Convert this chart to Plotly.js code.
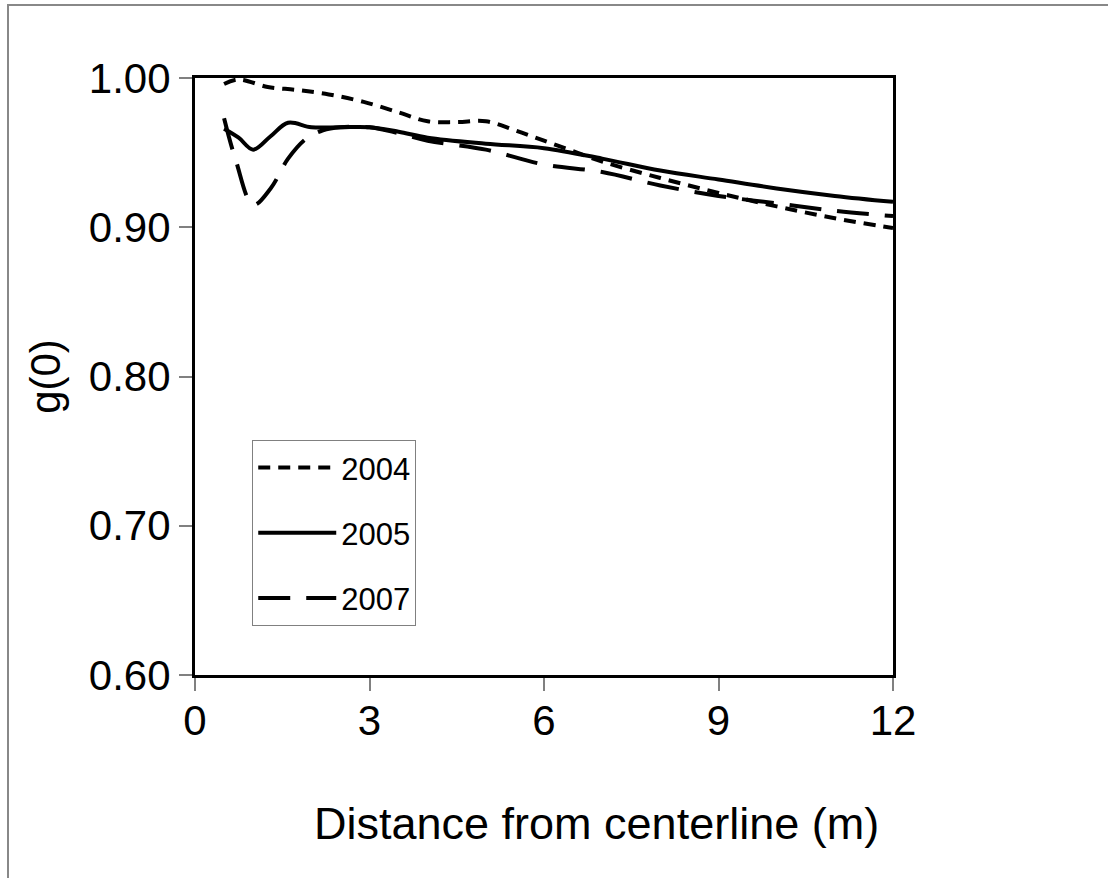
<!DOCTYPE html>
<html>
<head>
<meta charset="utf-8">
<script src="https://cdn.plot.ly/plotly-3.0.1.min.js"></script>
<style>
  html, body { margin: 0; padding: 0; background: #fff; }
  #frame { position: absolute; left: 7px; top: 4px; width: 1110px; height: 880px;
           border-top: 2px solid #888; border-left: 2px solid #888; }
  #chart { position: absolute; left: 0; top: 0; width: 1108px; height: 878px; }
</style>
</head>
<body>
<div id="frame"></div>
<div id="chart"></div>
<script>
// Distance from centerline (m) and g(0) per year
const x2004 = [0.5, 0.75, 1.25, 1.75, 2.3, 2.9, 3.5, 4.0, 4.5, 5.0, 5.5, 6.0, 6.5, 7.0, 8.0, 9.0, 10.0, 11.0, 12.0];
const y2004 = [0.996, 0.999, 0.994, 0.992, 0.989, 0.984, 0.977, 0.971, 0.9705, 0.971, 0.965, 0.958, 0.951, 0.944, 0.933, 0.923, 0.914, 0.906, 0.8995];

const x2005 = [0.5, 0.75, 1.0, 1.3, 1.6, 2.0, 2.5, 3.0, 3.5, 4.0, 5.0, 6.0, 7.0, 8.0, 9.0, 10.0, 11.0, 12.0];
const y2005 = [0.966, 0.960, 0.952, 0.961, 0.970, 0.967, 0.967, 0.967, 0.964, 0.960, 0.956, 0.953, 0.946, 0.938, 0.932, 0.926, 0.921, 0.917];

const x2007 = [0.5, 0.7, 1.0, 1.3, 1.6, 1.9, 2.2, 2.5, 3.0, 3.5, 4.0, 5.0, 6.0, 7.0, 8.0, 9.0, 10.0, 11.0, 12.0];
const y2007 = [0.973, 0.945, 0.915, 0.926, 0.946, 0.959, 0.965, 0.967, 0.967, 0.963, 0.958, 0.952, 0.942, 0.937, 0.928, 0.921, 0.916, 0.911, 0.9075];

const seriesNames = ['2004', '2005', '2007'];
const xTicks = [0, 3, 6, 9, 12];
const yTicks = [0.6, 0.7, 0.8, 0.9, 1.0];
const xTitle = 'Distance from centerline (m)';
const yTitle = 'g(0)';

const font = 'Arial, "Liberation Sans", sans-serif';

const traces = [
  {x: x2004, y: y2004, name: seriesNames[0], legendgroup: 'a', mode: 'lines',
   line: {color: '#000', width: 4, dash: '12px,8px', shape: 'spline'}},
  {x: x2005, y: y2005, name: seriesNames[1], legendgroup: 'b', mode: 'lines',
   line: {color: '#000', width: 4, dash: 'solid', shape: 'spline'}},
  {x: x2007, y: y2007, name: seriesNames[2], legendgroup: 'c', mode: 'lines',
   line: {color: '#000', width: 4, dash: '32px,16px', shape: 'spline'}}
];

const layout = {
  width: 1108, height: 878,
  margin: {l: 195, r: 215, t: 78, b: 203},
  paper_bgcolor: 'rgba(0,0,0,0)', plot_bgcolor: '#fff',
  font: {family: font, color: '#000'},
  showlegend: true,
  legend: {x: 0.082, y: 0.394, xanchor: 'left', yanchor: 'top',
           bgcolor: '#fff', bordercolor: '#808080', borderwidth: 1,
           font: {size: 31, family: font}, tracegroupgap: 22, itemwidth: 78},
  xaxis: {range: [0, 12], tickvals: xTicks, ticktext: xTicks.map(String),
          showgrid: false, zeroline: false,
          showline: true, linecolor: '#000', linewidth: 3, mirror: true,
          ticks: 'outside', ticklen: 13, tickwidth: 2, tickcolor: '#808080',
          ticklabelstandoff: -6,
          tickfont: {size: 42, family: font}},
  yaxis: {range: [0.6, 1.0], tickvals: yTicks, ticktext: yTicks.map(v => v.toFixed(2)),
          showgrid: false, zeroline: false,
          showline: true, linecolor: '#000', linewidth: 3, mirror: true,
          ticks: 'outside', ticklen: 13, tickwidth: 2, tickcolor: '#808080',
          tickfont: {size: 42, family: font},
          title: {text: yTitle, font: {size: 42, family: font}, standoff: 16}},
  annotations: [
    {text: xTitle, xref: 'paper', yref: 'paper', x: 0.5745, y: -0.248,
     xanchor: 'center', yanchor: 'middle', showarrow: false,
     font: {size: 45, family: font, color: '#000'}}
  ]
};

Plotly.newPlot('chart', traces, layout, {displayModeBar: false, staticPlot: true});
</script>
</body>
</html>
